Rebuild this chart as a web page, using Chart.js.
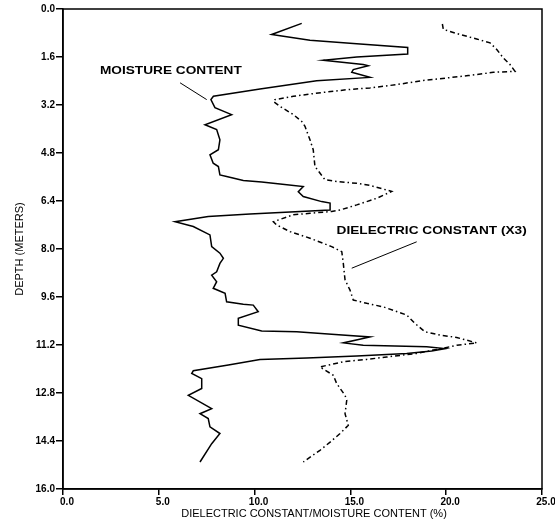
<!DOCTYPE html>
<html>
<head>
<meta charset="utf-8">
<script src="https://cdn.jsdelivr.net/npm/chart.js@4.4.0/dist/chart.umd.min.js"></script>
<style>
  html, body { margin: 0; padding: 0; background: #fff; }
</style>
</head>
<body>
<canvas id="canvas" width="555" height="525"></canvas>
<script>
'use strict';

// Moisture content (%) against depth (m)
const moistureValue = [
  12.46, 10.89, 11.33, 12.89, 15.33, 17.99, 17.99, 15.33, 13.59, 15.67,
  15.93, 15.15, 15.07, 16.02, 13.24, 10.28, 7.85, 7.72, 7.93, 8.80,
  7.41, 8.02, 8.19, 8.11, 7.67, 7.84, 8.11, 8.19, 8.54, 9.41,
  10.37, 11.33, 12.54, 12.28, 12.54, 13.50, 13.94, 13.94, 9.76, 7.58,
  5.85, 6.80, 7.67, 7.76, 8.19, 8.37, 8.19, 8.02, 7.76, 8.02,
  7.84, 8.46, 8.54, 9.41, 9.93, 10.19, 9.15, 9.15, 10.37, 12.20,
  14.02, 16.02, 14.63, 15.67, 18.98, 19.94, 19.24, 17.94, 15.33, 12.72,
  10.28, 8.63, 6.80, 6.72, 7.24, 7.24, 6.54, 7.76, 7.15, 7.58,
  7.67, 8.19, 7.76, 7.15
];
const moistureDepth = [
  0.48, 0.85, 0.89, 1.04, 1.16, 1.28, 1.50, 1.60, 1.71, 1.85,
  1.89, 2.02, 2.11, 2.28, 2.39, 2.67, 2.91, 3.02, 3.29, 3.52,
  3.86, 4.02, 4.36, 4.69, 4.86, 5.14, 5.25, 5.53, 5.58, 5.72,
  5.77, 5.83, 5.92, 6.09, 6.25, 6.42, 6.47, 6.70, 6.83, 6.92,
  7.09, 7.25, 7.53, 7.92, 8.14, 8.31, 8.48, 8.76, 8.87, 9.09,
  9.31, 9.48, 9.76, 9.84, 9.87, 10.09, 10.31, 10.54, 10.73, 10.76,
  10.84, 10.93, 11.13, 11.21, 11.26, 11.32, 11.40, 11.48, 11.57, 11.63,
  11.68, 11.87, 12.06, 12.15, 12.32, 12.65, 12.88, 13.32, 13.49, 13.65,
  13.93, 14.15, 14.49, 15.10
];

// Dielectric constant (scaled x3) against depth (m)
const dielectricValue = [
  19.80, 19.85, 20.72, 21.59, 22.29, 22.64, 22.98, 23.33, 23.59, 22.46,
  21.15, 20.03, 18.81, 17.42, 16.02, 14.81, 13.06, 12.02, 11.06, 10.98,
  11.33, 12.02, 12.46, 12.63, 12.89, 13.06, 13.15, 13.67, 14.28, 15.33,
  16.02, 17.15, 16.37, 15.33, 14.46, 14.02, 12.89, 12.02, 10.98, 11.15,
  11.85, 12.89, 14.02, 14.55, 14.63, 14.72, 14.98, 15.15, 15.85, 16.72,
  17.94, 18.37, 18.89, 19.68, 20.55, 21.07, 21.59, 21.07, 20.55, 20.03,
  19.33, 18.46, 16.89, 15.85, 14.63, 13.41, 14.11, 14.28, 14.72, 14.81,
  14.72, 14.89, 14.46, 13.94, 13.41, 12.54
];
const dielectricDepth = [
  0.50, 0.68, 0.85, 1.00, 1.13, 1.35, 1.63, 1.85, 2.08, 2.11,
  2.22, 2.30, 2.38, 2.52, 2.63, 2.69, 2.82, 2.91, 3.02, 3.08,
  3.25, 3.52, 3.75, 3.91, 4.36, 4.69, 5.25, 5.69, 5.75, 5.81,
  5.88, 6.08, 6.31, 6.53, 6.70, 6.75, 6.81, 6.86, 7.09, 7.20,
  7.42, 7.64, 7.92, 8.09, 8.48, 9.03, 9.37, 9.70, 9.81, 9.93,
  10.20, 10.48, 10.76, 10.87, 10.95, 11.04, 11.13, 11.17, 11.21, 11.28,
  11.37, 11.48, 11.60, 11.68, 11.76, 11.93, 12.21, 12.48, 12.88, 13.04,
  13.49, 13.88, 14.15, 14.44, 14.71, 15.10
];

const xTicks = [0, 5, 10, 15, 20, 25];
const depthTicks = [0, 1.6, 3.2, 4.8, 6.4, 8.0, 9.6, 11.2, 12.8, 14.4, 16.0];

const toPoints = (xs, ys) => xs.map((v, i) => ({ x: v, y: ys[i] }));

const FONT = "'Liberation Sans', Arial, sans-serif";

// wide lettering for the curve labels
const wideText = (ctx, text, x, y) => {
  ctx.save();
  ctx.translate(x, y);
  ctx.scale(1.3, 1);
  ctx.fillText(text, 0, 0);
  ctx.restore();
};

// box around the plot, curve labels with leader lines, x axis title
const notes = {
  id: 'notes',
  afterDraw(chart) {
    const { ctx, chartArea: a, scales } = chart;
    const px = v => scales.x.getPixelForValue(v);
    const py = v => scales.y.getPixelForValue(v);
    ctx.save();
    ctx.strokeStyle = '#000';
    ctx.lineWidth = 1.5;
    ctx.strokeRect(a.left, a.top, a.right - a.left, a.bottom - a.top);

    ctx.fillStyle = '#000';
    ctx.textBaseline = 'middle';
    ctx.textAlign = 'left';
    ctx.font = 'bold 10.5px ' + FONT;
    wideText(ctx, 'MOISTURE CONTENT', px(1.93), py(2.08));
    wideText(ctx, 'DIELECTRIC CONSTANT (X3)', px(14.28), py(7.42));

    ctx.lineWidth = 1;
    ctx.beginPath();
    ctx.moveTo(px(6.11), py(2.46));
    ctx.lineTo(px(7.50), py(3.02));
    ctx.moveTo(px(18.46), py(7.76));
    ctx.lineTo(px(15.07), py(8.64));
    ctx.stroke();

    ctx.textAlign = 'center';
    ctx.font = '11px ' + FONT;
    ctx.fillText('DIELECTRIC CONSTANT/MOISTURE CONTENT (%)', 314, 514);
    ctx.restore();
  }
};

new Chart(document.getElementById('canvas').getContext('2d'), {
  type: 'scatter',
  data: {
    datasets: [
      {
        label: 'Moisture content',
        data: toPoints(moistureValue, moistureDepth),
        showLine: true,
        borderColor: '#000',
        borderWidth: 1.5,
        pointRadius: 0,
        tension: 0
      },
      {
        label: 'Dielectric constant (x3)',
        data: toPoints(dielectricValue, dielectricDepth),
        showLine: true,
        borderColor: '#000',
        borderWidth: 1.5,
        borderDash: [5, 3, 1.5, 3],
        pointRadius: 0,
        tension: 0
      }
    ]
  },
  options: {
    responsive: false,
    animation: false,
    layout: { padding: { top: 9, right: 13, left: 0, bottom: 0 } },
    plugins: {
      legend: { display: false },
      tooltip: { enabled: false }
    },
    scales: {
      x: {
        type: 'linear',
        min: 0,
        max: 25,
        afterBuildTicks: s => { s.ticks = xTicks.map(v => ({ value: v })); },
        afterFit: s => { s.height = 36; s.paddingLeft = 0; s.paddingRight = 0; },
        grid: { display: true, drawOnChartArea: false, drawTicks: true, tickLength: 6, color: '#000', lineWidth: 1.5 },
        border: { display: true, color: '#000', width: 1.5 },
        ticks: {
          color: '#000',
          padding: 1,
          maxRotation: 0,
          labelOffset: 4,
          font: { family: FONT, size: 10, weight: 'bold' },
          callback: v => v.toFixed(1)
        }
      },
      y: {
        type: 'linear',
        reverse: true,
        min: 0,
        max: 16,
        afterBuildTicks: s => { s.ticks = depthTicks.map(v => ({ value: v })); },
        afterFit: s => { s.width = 63; s.paddingTop = 0; s.paddingBottom = 0; },
        grid: { display: true, drawOnChartArea: false, drawTicks: true, tickLength: 7, color: '#000', lineWidth: 1.5 },
        border: { display: true, color: '#000', width: 1.5 },
        title: {
          display: true,
          text: 'DEPTH (METERS)',
          color: '#000',
          padding: { top: 13, bottom: 0 },
          font: { family: FONT, size: 11 }
        },
        ticks: {
          color: '#000',
          padding: 1,
          font: { family: FONT, size: 10, weight: 'bold' },
          callback: v => v.toFixed(1)
        }
      }
    }
  },
  plugins: [notes]
});
</script>
</body>
</html>
